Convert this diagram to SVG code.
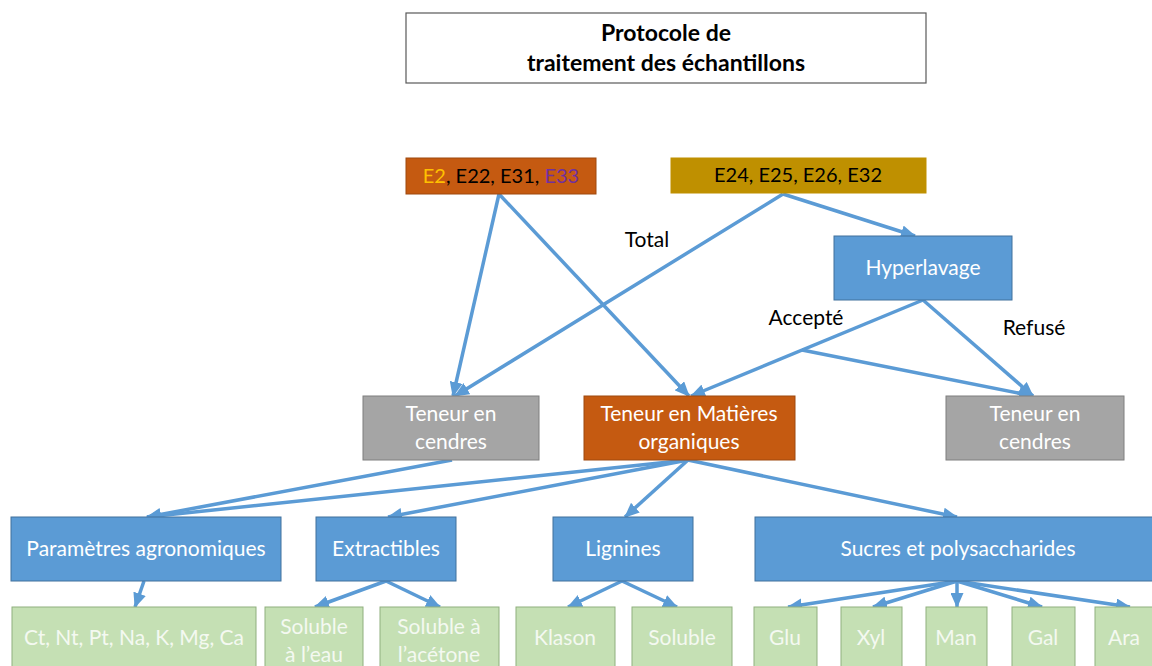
<svg xmlns="http://www.w3.org/2000/svg" width="1152" height="666" viewBox="0 0 1152 666">
<style>
text{font-family:Lato,"Noto Sans","Liberation Sans",sans-serif;text-anchor:middle}
.blue{fill:#5B9BD5;stroke:#41719C;stroke-width:1}
.grey{fill:#A5A5A5;stroke:#7F7F7F;stroke-width:1}
.orange{fill:#C55A11;stroke:#9E480E;stroke-width:1}
.gold{fill:#BF9000;stroke:#BF9000;stroke-width:1}
.green{fill:#C5E0B4;stroke:#8FAF7E;stroke-width:1}
.wt{fill:#FFFFFF;font-size:21px}
.gt{fill:#F4F9F1;font-size:21px}
.bt{fill:#000000;font-size:20px}
.lbl{fill:#000000;font-size:21px}
.conn line{stroke:#5B9BD5;stroke-width:3.5;marker-end:url(#arr)}
</style>
<defs>
<marker id="arr" markerUnits="userSpaceOnUse" markerWidth="15" markerHeight="13" refX="14" refY="6.5" orient="auto">
<path d="M0,0 L15,6.5 L0,13 z" fill="#5B9BD5"/>
</marker>
</defs>
<rect width="1152" height="666" fill="#FFFFFF"/>

<g id="title">
<rect x="406" y="13" width="520" height="70" fill="#FFFFFF" stroke="#595959" stroke-width="1.2"/>
<text x="666" y="41" font-size="23" font-weight="bold" fill="#000">Protocole de</text>
<text x="666" y="71" font-size="23" font-weight="bold" fill="#000">traitement des échantillons</text>
</g>

<g class="conn" id="connectors">
<line x1="499" y1="194" x2="453" y2="396"/>
<line x1="499" y1="194" x2="689" y2="396"/>
<line x1="783" y1="194" x2="455" y2="396"/>
<line x1="783" y1="194" x2="915" y2="236"/>
<line x1="923" y1="300" x2="691" y2="396"/>
<line x1="802" y1="350" x2="1033" y2="396"/>
<line x1="923" y1="300" x2="1033" y2="396"/>
<line x1="452" y1="460" x2="147" y2="517"/>
<line x1="688" y1="460" x2="147" y2="517"/>
<line x1="688" y1="460" x2="388" y2="517"/>
<line x1="688" y1="460" x2="625" y2="517"/>
<line x1="688" y1="460" x2="957" y2="517"/>
<line x1="144" y1="581" x2="135" y2="607"/>
<line x1="386" y1="581" x2="315" y2="607"/>
<line x1="386" y1="581" x2="440" y2="607"/>
<line x1="622" y1="581" x2="568" y2="607"/>
<line x1="622" y1="581" x2="677" y2="607"/>
<line x1="957" y1="581" x2="788" y2="607"/>
<line x1="957" y1="581" x2="873" y2="607"/>
<line x1="957" y1="581" x2="957" y2="607"/>
<line x1="957" y1="581" x2="1042" y2="607"/>
<line x1="957" y1="581" x2="1130" y2="607"/>
</g>

<g id="labels">
<text class="lbl" x="647" y="247">Total</text>
<text class="lbl" x="806" y="325">Accepté</text>
<text class="lbl" x="1034" y="335">Refusé</text>
</g>

<g id="e2">
<rect class="orange" x="406" y="158" width="190" height="36"/>
<text class="bt" x="501" y="183"><tspan fill="#FFC000">E2</tspan>, E22, E31, <tspan fill="#7030A0">E33</tspan></text>
</g>
<g id="e24">
<rect class="gold" x="671" y="158" width="255" height="35"/>
<text class="bt" x="798" y="182">E24, E25, E26, E32</text>
</g>
<g id="hyperlavage">
<rect class="blue" x="834" y="236" width="178" height="64"/>
<text class="wt" x="923" y="275">Hyperlavage</text>
</g>
<g id="cendres1">
<rect class="grey" x="363" y="396" width="176" height="64"/>
<text class="wt" x="451" y="421">Teneur en</text>
<text class="wt" x="451" y="449">cendres</text>
</g>
<g id="matieres">
<rect class="orange" x="584" y="396" width="211" height="64"/>
<text class="wt" x="689" y="421">Teneur en Matières</text>
<text class="wt" x="689" y="449">organiques</text>
</g>
<g id="cendres2">
<rect class="grey" x="946" y="396" width="178" height="64"/>
<text class="wt" x="1035" y="421">Teneur en</text>
<text class="wt" x="1035" y="449">cendres</text>
</g>

<g id="parametres">
<rect class="blue" x="11" y="517" width="270" height="64"/>
<text class="wt" x="146" y="556">Paramètres agronomiques</text>
</g>
<g id="extractibles">
<rect class="blue" x="316" y="517" width="140" height="64"/>
<text class="wt" x="386" y="556">Extractibles</text>
</g>
<g id="lignines">
<rect class="blue" x="553" y="517" width="140" height="64"/>
<text class="wt" x="623" y="556">Lignines</text>
</g>
<g id="sucres">
<rect class="blue" x="755" y="517" width="410" height="64"/>
<text class="wt" x="958" y="556">Sucres et polysaccharides</text>
</g>

<g id="ct">
<rect class="green" x="12" y="607" width="244" height="70"/>
<text class="gt" x="134" y="645">Ct, Nt, Pt, Na, K, Mg, Ca</text>
</g>
<g id="soluble-eau">
<rect class="green" x="265" y="607" width="98" height="70"/>
<text class="gt" x="314" y="634">Soluble</text>
<text class="gt" x="314" y="662">à l’eau</text>
</g>
<g id="soluble-acetone">
<rect class="green" x="380" y="607" width="119" height="70"/>
<text class="gt" x="439" y="634">Soluble à</text>
<text class="gt" x="439" y="662">l’acétone</text>
</g>
<g id="klason">
<rect class="green" x="516" y="607" width="99" height="70"/>
<text class="gt" x="565" y="645">Klason</text>
</g>
<g id="soluble">
<rect class="green" x="632" y="607" width="100" height="70"/>
<text class="gt" x="682" y="645">Soluble</text>
</g>
<g id="glu">
<rect class="green" x="754" y="607" width="63" height="70"/>
<text class="gt" x="785" y="645">Glu</text>
</g>
<g id="xyl">
<rect class="green" x="841" y="607" width="61" height="70"/>
<text class="gt" x="871" y="645">Xyl</text>
</g>
<g id="man">
<rect class="green" x="926" y="607" width="61" height="70"/>
<text class="gt" x="956" y="645">Man</text>
</g>
<g id="gal">
<rect class="green" x="1012" y="607" width="63" height="70"/>
<text class="gt" x="1043" y="645">Gal</text>
</g>
<g id="ara">
<rect class="green" x="1095" y="607" width="70" height="70"/>
<text class="gt" x="1124" y="645">Ara</text>
</g>
</svg>
